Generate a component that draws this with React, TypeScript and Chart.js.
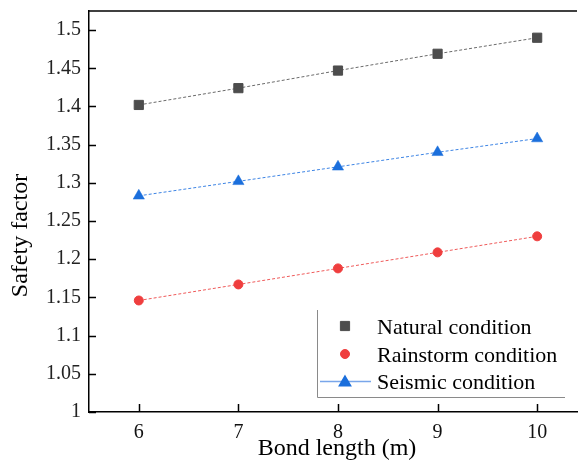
import React, { useEffect, useRef } from 'react';
import { Chart, registerables } from 'chart.js';
import { drawPoint } from 'chart.js/helpers';

Chart.register(...registerables);

const BOND_LENGTHS = [6, 7, 8, 9, 10];
const NATURAL = [1.402, 1.424, 1.447, 1.469, 1.49];
const RAINSTORM = [1.146, 1.167, 1.188, 1.209, 1.23];
const SEISMIC = [1.283, 1.302, 1.321, 1.34, 1.358];
const X_TICKS = [6, 7, 8, 9, 10];
const Y_TICKS = [1, 1.05, 1.1, 1.15, 1.2, 1.25, 1.3, 1.35, 1.4, 1.45, 1.5];
const SERIES_LABELS = ['Natural condition', 'Rainstorm condition', 'Seismic condition'];
const X_TITLE = 'Bond length (m)';
const Y_TITLE = 'Safety factor';

const SERIF = '"Liberation Serif", "Times New Roman", serif';

const COLORS = {
  natural: '#4d4d4d',
  naturalLine: '#6a6a6a',
  rain: '#ef3e3e',
  rainLine: '#ef5a5a',
  seismic: '#1b6fdc',
  seismicLine: '#3d84e4',
  seismicLegendLine: '#79a6ea',
};

const toPoints = (ys: number[]) => BOND_LENGTHS.map((x, i) => ({ x, y: ys[i] }));

const zeroPad = (s: any) => {
  s.paddingTop = 0;
  s.paddingBottom = 0;
  s.paddingLeft = 0;
  s.paddingRight = 0;
};

const decorPlugin = {
  id: 'decor',
  afterDraw(chart: any) {
    const { ctx, chartArea, scales } = chart;
    ctx.save();
    // top frame line
    ctx.strokeStyle = '#000';
    ctx.lineWidth = 1.5;
    ctx.beginPath();
    ctx.moveTo(chartArea.left, chartArea.top);
    ctx.lineTo(chartArea.right, chartArea.top);
    ctx.stroke();
    // inward ticks
    ctx.beginPath();
    X_TICKS.forEach((v) => {
      const px = Math.round(scales.x.getPixelForValue(v)) + 0.5;
      ctx.moveTo(px, chartArea.bottom);
      ctx.lineTo(px, chartArea.bottom - 8);
    });
    Y_TICKS.forEach((v) => {
      const py = Math.round(scales.y.getPixelForValue(v)) + 0.5;
      ctx.moveTo(chartArea.left, py);
      ctx.lineTo(chartArea.left + 7, py);
    });
    ctx.stroke();

    // axis titles
    ctx.fillStyle = '#000';
    ctx.font = `24px ${SERIF}`;
    ctx.textAlign = 'center';
    ctx.textBaseline = 'alphabetic';
    ctx.fillText(X_TITLE, 337, 455);
    ctx.save();
    ctx.translate(27, 235.5);
    ctx.rotate(-Math.PI / 2);
    ctx.fillText(Y_TITLE, 0, 0);
    ctx.restore();

    // legend frame (left + bottom)
    ctx.strokeStyle = '#8a8a8a';
    ctx.lineWidth = 1;
    ctx.beginPath();
    ctx.moveTo(317.5, 310);
    ctx.lineTo(317.5, 397.5);
    ctx.lineTo(565, 397.5);
    ctx.stroke();

    // legend items
    const ds = chart.data.datasets;
    const rows = [326, 354, 381];
    ctx.font = `22px ${SERIF}`;
    ctx.textAlign = 'left';
    ctx.textBaseline = 'alphabetic';
    ds.forEach((d: any, i: number) => {
      const y = rows[i];
      if (i === 2) {
        ctx.strokeStyle = COLORS.seismicLegendLine;
        ctx.lineWidth = 1.5;
        ctx.beginPath();
        ctx.moveTo(320, y + 0.5);
        ctx.lineTo(371, y + 0.5);
        ctx.stroke();
      }
      ctx.fillStyle = d.pointBackgroundColor;
      ctx.strokeStyle = d.pointBorderColor;
      drawPoint(
        ctx,
        {
          pointStyle: d.pointStyle,
          radius: d.pointRadius,
          rotation: 0,
          borderWidth: d.pointBorderWidth,
        },
        345,
        i === 2 ? y + 1.5 : y
      );
      ctx.fillStyle = '#000';
      ctx.fillText(d.label, 377, y + 7.5);
    });
    ctx.restore();
  },
};

export default function App() {
  const ref = useRef<HTMLCanvasElement | null>(null);

  useEffect(() => {
    if (!ref.current) return;
    const chart = new Chart(ref.current, {
      type: 'line',
      data: {
        datasets: [
          {
            label: SERIES_LABELS[0],
            data: toPoints(NATURAL),
            borderColor: COLORS.naturalLine,
            borderWidth: 1,
            borderDash: [3, 2],
            pointStyle: 'rect',
            pointRadius: 6.5,
            pointBorderWidth: 1,
            pointBackgroundColor: COLORS.natural,
            pointBorderColor: COLORS.natural,
          },
          {
            label: SERIES_LABELS[1],
            data: toPoints(RAINSTORM),
            borderColor: COLORS.rainLine,
            borderWidth: 1,
            borderDash: [3, 2],
            pointStyle: 'circle',
            pointRadius: 4.5,
            pointBorderWidth: 1,
            pointBackgroundColor: COLORS.rain,
            pointBorderColor: COLORS.rain,
          },
          {
            label: SERIES_LABELS[2],
            data: toPoints(SEISMIC),
            borderColor: COLORS.seismicLine,
            borderWidth: 1,
            borderDash: [3, 2],
            pointStyle: 'triangle',
            pointRadius: 6.5,
            pointBorderWidth: 0.5,
            pointBackgroundColor: COLORS.seismic,
            pointBorderColor: COLORS.seismic,
          },
        ] as any,
      },
      options: {
        animation: false,
        responsive: false,
        devicePixelRatio: 1,
        layout: { autoPadding: false, padding: { top: 11, right: 1, left: 0, bottom: 0 } },
        plugins: {
          legend: { display: false },
          tooltip: { enabled: false },
        },
        scales: {
          x: {
            type: 'linear',
            min: 5.5,
            max: 10.4,
            grid: { display: false, drawTicks: false },
            border: { display: true, color: '#000', width: 1.5 },
            afterBuildTicks: (s: any) => {
              s.ticks = X_TICKS.map((v) => ({ value: v }));
            },
            afterFit: (s: any) => {
              s.height = 56;
              zeroPad(s);
            },
            ticks: {
              padding: 9,
              color: '#111',
              font: { family: SERIF, size: 20 },
              callback: (v: any) => String(v),
            },
          },
          y: {
            type: 'linear',
            min: 1,
            max: 1.525,
            grid: { display: false, drawTicks: false },
            border: { display: true, color: '#000', width: 1.5 },
            afterBuildTicks: (s: any) => {
              s.ticks = Y_TICKS.map((v) => ({ value: v }));
            },
            afterFit: (s: any) => {
              s.width = 89;
              zeroPad(s);
            },
            ticks: {
              padding: 8,
              color: '#222',
              font: { family: SERIF, size: 20 },
              callback: (v: any) => String(parseFloat(Number(v).toFixed(2))),
            },
          },
        },
      } as any,
      plugins: [decorPlugin],
    });
    return () => chart.destroy();
  }, []);

  return (
    <div style={{ position: 'absolute', left: 0, top: 0, width: 578, height: 468, background: '#fff' }}>
      <canvas ref={ref} width={578} height={468} />
    </div>
  );
}
